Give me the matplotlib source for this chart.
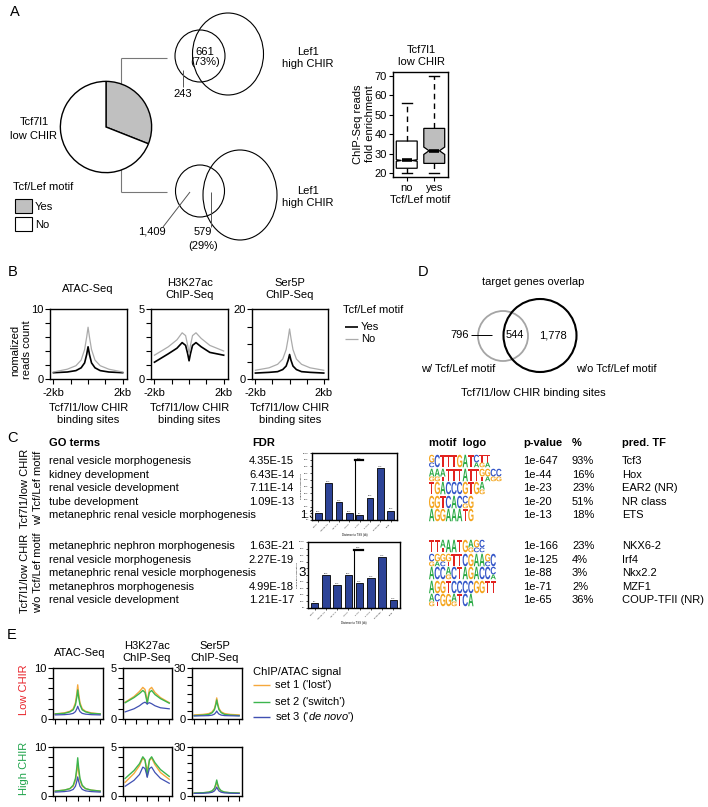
import numpy as np
import matplotlib
matplotlib.use('Agg')
import matplotlib.pyplot as plt
from matplotlib.patches import Ellipse, Circle, Rectangle, PathPatch
from matplotlib.textpath import TextPath
from matplotlib.font_manager import FontProperties
from matplotlib.transforms import Affine2D

plt.rcParams['font.family'] = ['Liberation Sans', 'DejaVu Sans']
plt.rcParams['font.size'] = 8
plt.rcParams['mathtext.fontset'] = 'custom'
plt.rcParams['mathtext.rm'] = 'Liberation Sans'
plt.rcParams['mathtext.it'] = 'Liberation Sans:italic'

W, H = 708, 807

# ---------------- data ----------------
pie_labels = ['Yes', 'No']
pie_values = [31, 69]

venn_top_only = '243'
venn_top_overlap = '661\n(73%)'
venn_bot_only = '1,409'
venn_bot_overlap = '579'
venn_bot_pct = '(29%)'

box_groups = ['no', 'yes']
box_med = [26.5, 31.5]
box_q1 = [22.5, 25.0]
box_q3 = [36.5, 43.0]
box_whislo = [20.0, 20.0]
box_whishi = [56.0, 70.0]
box_cilo = [26.1, 29.6]
box_cihi = [26.9, 33.4]

prof_x = [-2, -1.2, -0.7, -0.4, -0.2, -0.08, 0, 0.08, 0.2, 0.4, 0.7, 1.2, 2]

b_atac_yes = [0.9, 1.0, 1.2, 1.6, 2.3, 3.5, 4.6, 3.5, 2.3, 1.6, 1.2, 1.0, 0.9]
b_atac_no = [1.0, 1.4, 1.9, 2.7, 4.2, 6.0, 7.4, 6.0, 4.2, 2.7, 1.9, 1.4, 1.0]
b_h3_yes = [1.2, 1.8, 2.2, 2.6, 2.4, 1.8, 1.3, 1.8, 2.4, 2.6, 2.3, 1.9, 1.7]
b_h3_no = [1.7, 2.3, 2.8, 3.3, 3.1, 2.4, 1.8, 2.4, 3.1, 3.3, 2.9, 2.4, 2.0]
b_ser_yes = [1.7, 1.9, 2.1, 2.7, 3.7, 5.4, 7.0, 5.4, 3.7, 2.7, 2.1, 1.9, 1.7]
b_ser_no = [2.5, 3.2, 4.2, 5.7, 8.4, 11.7, 14.3, 11.7, 8.4, 5.7, 4.2, 3.2, 2.5]

e_low_atac = [[1.0, 1.2, 1.5, 2.0, 3.2, 5.0, 6.7, 5.0, 3.2, 2.0, 1.5, 1.2, 1.0],
              [1.0, 1.1, 1.4, 1.8, 2.8, 4.3, 5.7, 4.3, 2.8, 1.8, 1.4, 1.1, 1.0],
              [0.8, 0.85, 0.95, 1.1, 1.45, 2.0, 2.5, 2.0, 1.45, 1.1, 0.95, 0.85, 0.8]]
e_low_h3 = [[1.65, 2.2, 2.7, 3.1, 2.9, 2.2, 1.55, 2.2, 2.9, 3.1, 2.6, 2.1, 1.6],
            [1.6, 2.1, 2.5, 2.8, 2.6, 2.0, 1.5, 2.0, 2.6, 2.8, 2.4, 2.0, 1.55],
            [0.7, 1.0, 1.3, 1.55, 1.65, 1.55, 1.45, 1.55, 1.6, 1.5, 1.3, 1.1, 1.0]]
e_low_ser = [[2.4, 2.7, 3.2, 4.2, 6.2, 9.4, 12.4, 9.4, 6.2, 4.2, 3.2, 2.7, 2.4],
             [2.0, 2.3, 2.7, 3.7, 5.5, 8.4, 11.2, 8.4, 5.5, 3.7, 2.7, 2.3, 2.0],
             [1.8, 1.9, 2.0, 2.3, 2.9, 3.8, 4.7, 3.8, 2.9, 2.3, 2.0, 1.9, 1.8]]
e_high_atac = [[1.0, 1.2, 1.5, 2.0, 3.2, 5.0, 6.7, 5.0, 3.2, 2.0, 1.5, 1.2, 1.0],
               [1.0, 1.2, 1.5, 2.2, 3.6, 5.8, 7.8, 5.8, 3.6, 2.2, 1.5, 1.2, 1.0],
               [0.8, 0.9, 1.05, 1.35, 2.0, 3.0, 3.9, 3.0, 2.0, 1.35, 1.05, 0.9, 0.8]]
e_high_h3 = [[1.4, 2.3, 3.1, 3.9, 3.6, 3.0, 2.6, 3.0, 3.6, 3.9, 3.2, 2.4, 1.7],
             [1.8, 2.6, 3.3, 4.0, 3.7, 2.7, 2.0, 2.7, 3.7, 4.0, 3.4, 2.7, 2.0],
             [1.0, 1.6, 2.2, 2.95, 2.8, 2.3, 1.9, 2.3, 2.8, 2.95, 2.4, 1.8, 1.3]]
e_high_ser = [[1.8, 2.0, 2.3, 3.0, 4.4, 6.6, 8.6, 6.6, 4.4, 3.0, 2.3, 2.0, 1.8],
              [1.8, 2.0, 2.4, 3.2, 4.8, 7.4, 9.8, 7.4, 4.8, 3.2, 2.4, 2.0, 1.8],
              [1.6, 1.7, 1.9, 2.3, 3.1, 4.3, 5.5, 4.3, 3.1, 2.3, 1.9, 1.7, 1.6]]
e_set_labels = ["set 1 ('lost')", "set 2 ('switch')", r"set 3 ('$\mathit{de\ novo}$')"]

go_terms_1 = ['renal vesicle morphogenesis', 'kidney development', 'renal vesicle development',
              'tube development', 'metanephric renal vesicle morphogenesis']
go_fdr_1 = ['4.35E-15', '6.43E-14', '7.11E-14', '1.09E-13', '1.38E-13']
go_terms_2 = ['metanephric nephron morphogenesis', 'renal vesicle morphogenesis',
              'metanephric renal vesicle morphogenesis', 'metanephros morphogenesis',
              'renal vesicle development']
go_fdr_2 = ['1.63E-21', '2.27E-19', '3.84E-18', '4.99E-18', '1.21E-17']

tss_bins = ['<-500', '-500 to -50', '-50 to -5', '-5 to 0', '0 to 5', '5 to 50', '50 to 500', '>500']
tss_vals_1 = [10, 55, 26.5, 10, 7.5, 33.5, 77.5, 14]
tss_vals_2 = [7.5, 50, 35, 50, 37.5, 45, 77.5, 11.5]

motif_logos_1 = ['GC C T T T G A T CA TG TA', 'AG AG AT T T T A T T GT GA CG CG',
                 'T G A C C C G T G AG', 'G G T C A C CG G', 'A G G A A A T G']
motif_logos_2 = ['T T AT A A T G AG GC CC', 'CG GA GC GT T T C G A A GC C',
                 'A C C AG C T A G A C C CA', 'A G G T C C C C G G T T', 'AG CT G G AG T C A']
motif_p_1 = ['1e-647', '1e-44', '1e-23', '1e-20', '1e-13']
motif_pct_1 = ['93%', '16%', '23%', '51%', '18%']
motif_tf_1 = ['Tcf3', 'Hox', 'EAR2 (NR)', 'NR class', 'ETS']
motif_p_2 = ['1e-166', '1e-125', '1e-88', '1e-71', '1e-65']
motif_pct_2 = ['23%', '4%', '3%', '2%', '36%']
motif_tf_2 = ['NKX6-2', 'Irf4', 'Nkx2.2', 'MZF1', 'COUP-TFII (NR)']

d_only_w = '796'
d_overlap = '544'
d_only_wo = '1,778'

# ---------------- styles ----------------
ORANGE, GREEN, BLUE = '#F5A83C', '#3CB54E', '#4050B2'
GRAY_LINE = '#ABABAB'
LOGO_COL = {'A': '#2BAA45', 'C': '#3557C8', 'G': '#F4A51E', 'T': '#E2231F'}

fig = plt.figure(figsize=(W / 100, H / 100), dpi=100)
bg = fig.add_axes([0, 0, 1, 1])
bg.set_xlim(0, W)
bg.set_ylim(H, 0)
bg.axis('off')


def px(l, t, r, b):
    return [l / W, 1 - b / H, (r - l) / W, (b - t) / H]


def T(x, y, s, ha='left', va='center', **kw):
    bg.text(x, y, s, ha=ha, va=va, **kw)


def L(xs, ys, color='k', lw=0.8):
    bg.plot(xs, ys, color=color, lw=lw, solid_capstyle='butt')


# panel letters
for lab, (x, y) in {'A': (10, 12), 'B': (8, 272), 'C': (7, 438), 'D': (418, 272), 'E': (7, 635)}.items():
    T(x, y, lab, fontsize=10.5)

# ---------------- Panel A ----------------
axp = fig.add_axes(px(59, 80, 153, 174))
axp.pie(pie_values, colors=['#C0C0C0', 'white'], startangle=90, counterclock=False,
        wedgeprops=dict(edgecolor='k', linewidth=1.0))
axp.set_xlim(-1.03, 1.03)
axp.set_ylim(-1.03, 1.03)
axp.set_aspect('equal')
T(128, 114, '31%', ha='center')
T(34, 129, 'Tcf7l1\nlow CHIR', ha='center', linespacing=1.4)

T(13, 187, 'Tcf/Lef motif')
bg.add_patch(Rectangle((15, 199), 17, 14, fc='#C0C0C0', ec='k', lw=0.8))
T(35, 207, pie_labels[0])
bg.add_patch(Rectangle((15, 217), 17, 14, fc='white', ec='k', lw=0.8))
T(35, 225, pie_labels[1])

L([121, 121], [100, 58], '#777777')
L([121, 167], [58, 58], '#777777')
L([121, 121], [150, 192], '#777777')
L([121, 167], [192, 192], '#777777')

bg.add_patch(Ellipse((200, 56), 50, 52, fill=False, ec='k', lw=0.8))
bg.add_patch(Ellipse((228, 54), 71, 82, fill=False, ec='k', lw=0.8))
T(205, 57, venn_top_overlap, ha='center', linespacing=1.0)
L([183, 183], [70, 87], '#555555', 0.7)
T(183, 94, venn_top_only, ha='center')
T(308, 58, 'Lef1\nhigh CHIR', ha='center')

bg.add_patch(Ellipse((200, 191), 49, 52, fill=False, ec='k', lw=0.8))
bg.add_patch(Ellipse((240, 195), 74, 90, fill=False, ec='k', lw=0.8))
T(308, 197, 'Lef1\nhigh CHIR', ha='center')
L([163, 190], [227, 192], '#555555', 0.7)
T(152, 232, venn_bot_only, ha='center')
L([211, 211], [192, 227], '#555555', 0.7)
T(203, 232, venn_bot_overlap, ha='center')
T(203, 246, venn_bot_pct, ha='center')

# boxplot
axb = fig.add_axes(px(393, 72, 448, 177))
stats = []
for i, g in enumerate(box_groups):
    stats.append(dict(label=g, med=box_med[i], q1=box_q1[i], q3=box_q3[i],
                      whislo=box_whislo[i], whishi=box_whishi[i],
                      cilo=box_cilo[i], cihi=box_cihi[i], fliers=[]))
bp = axb.bxp(stats, positions=[1, 2], widths=0.76, shownotches=True, patch_artist=True,
             showfliers=False, capwidths=0.36,
             boxprops=dict(linewidth=0.9, edgecolor='k'),
             whiskerprops=dict(linestyle=(0, (4, 3)), linewidth=1.0, color='k'),
             capprops=dict(linewidth=1.0, color='k'),
             medianprops=dict(linewidth=2.6, color='k'))
for patch, fc in zip(bp['boxes'], ['white', '#BEBEBE']):
    patch.set_facecolor(fc)
axb.set_xlim(0.5, 2.5)
axb.set_ylim(18, 72)
axb.set_yticks([20, 30, 40, 50, 60, 70])
axb.set_xticks([1, 2])
axb.set_xticklabels(box_groups, fontsize=8)
axb.tick_params(direction='out', length=3, width=0.8, labelsize=8, pad=1.5)
for s in axb.spines.values():
    s.set_linewidth(1.0)
axb.set_xlabel('Tcf/Lef motif', fontsize=8, labelpad=1)
T(421, 56, 'Tcf7l1\nlow CHIR', ha='center', linespacing=1.35)
T(364, 124, 'ChIP-Seq reads\nfold enrichment', ha='center', rotation=90, fontsize=8)


# ---------------- profile helper ----------------
def prof(box, ymax, nint, series, cols, lws, xlab):
    ax = fig.add_axes(px(*box))
    for ys, c, lw in zip(series, cols, lws):
        ax.plot(prof_x, ys, color=c, lw=lw)
    ax.set_xlim(-2.2, 2.25)
    ax.set_ylim(0, ymax)
    ax.set_yticks([0, ymax])
    ax.set_yticklabels(['0', str(ymax)])
    ax.set_yticks(list(np.linspace(0, ymax, nint + 1)[1:-1]), minor=True)
    ax.set_xticks([-2, 2])
    ax.set_xticklabels(['-2kb', '2kb'] if xlab else [])
    ax.set_xticks([-1, 0, 1], minor=True)
    ax.tick_params(which='both', direction='out', length=3.5, width=0.8, labelsize=8, pad=1.2)
    ax.tick_params(axis='x', pad=3)
    for s in ax.spines.values():
        s.set_linewidth(1.0)
    return ax


# ---------------- Panel B ----------------
bcols = ['k', GRAY_LINE]
blws = [1.2, 0.9]
prof((50, 309, 127, 379), 10, 5, [b_atac_yes, b_atac_no], bcols, blws, True)
prof((151, 309, 228, 379), 5, 5, [b_h3_yes, b_h3_no], bcols, blws, True)
prof((252, 309, 328, 379), 20, 4, [b_ser_yes, b_ser_no], bcols, blws, True)
T(88, 289, 'ATAC-Seq', ha='center')
T(190, 289, 'H3K27ac\nChIP-Seq', ha='center')
T(290, 289, 'Ser5P\nChIP-Seq', ha='center')
for xc in [88.5, 189.5, 290]:
    T(xc, 414, 'Tcf7l1/low CHIR\nbinding sites', ha='center', linespacing=1.25)
T(21, 350, 'nomalized\nreads count', ha='center', rotation=90)
T(343, 310, 'Tcf/Lef motif')
L([345, 358], [327, 327], 'k', 1.2)
T(361, 327, 'Yes')
L([345, 358], [339, 339], GRAY_LINE, 0.9)
T(361, 339, 'No')

# ---------------- Panel D ----------------
T(533, 282, 'target genes overlap', ha='center')
bg.add_patch(Circle((503, 336), 25, fill=False, ec='#A5A5A5', lw=1.3))
bg.add_patch(Circle((540, 335.5), 36.5, fill=False, ec='k', lw=1.5))
T(515, 335, d_overlap, ha='center')
T(553, 335, d_only_wo, ha='center')
T(460, 335, d_only_w, ha='center')
L([471, 492], [335, 335], 'k', 0.7)
T(458, 369, 'w/ Tcf/Lef motif', ha='center')
T(616, 369, 'w/o Tcf/Lef motif', ha='center')
T(533, 393, 'Tcf7l1/low CHIR binding sites', ha='center')

# ---------------- Panel C ----------------
T(49, 443, 'GO terms', fontweight='bold')
T(264, 443, 'FDR', ha='center', fontweight='bold')
T(429, 443, 'motif  logo', fontweight='bold')
T(523, 443, 'p-value', fontweight='bold')
T(572, 443, '%', fontweight='bold')
T(622, 443, 'pred. TF', fontweight='bold')

rows_1 = [461, 475, 488, 502, 515]
rows_2 = [546, 560, 573, 587, 600]

for i in range(5):
    T(49, rows_1[i], go_terms_1[i])
    T(49, rows_2[i], go_terms_2[i])
    if i == 4:
        T(300, rows_1[i], go_fdr_1[i])
    else:
        T(294, rows_1[i], go_fdr_1[i], ha='right')
    if i == 2:
        T(298, rows_2[i], go_fdr_2[i], fontsize=9.5)
    else:
        T(294, rows_2[i], go_fdr_2[i], ha='right')
    T(523, rows_1[i], motif_p_1[i])
    T(572, rows_1[i], motif_pct_1[i])
    T(622, rows_1[i], motif_tf_1[i])
    T(523, rows_2[i], motif_p_2[i])
    T(572, rows_2[i], motif_pct_2[i])
    T(622, rows_2[i], motif_tf_2[i])

T(25, 488, 'Tcf7l1/low CHIR', ha='center', rotation=90, fontsize=8)
T(38, 488, 'w/ Tcf/Lef motif', ha='center', rotation=90, fontsize=8)
T(25, 573, 'Tcf7l1/low CHIR', ha='center', rotation=90, fontsize=8)
T(38, 573, 'w/o Tcf/Lef motif', ha='center', rotation=90, fontsize=8)

fp = FontProperties(family='Liberation Sans', weight='bold')


def draw_logo(x0, yc, cols, colw=5.6, h=12.5):
    x = x0
    for col in cols:
        fr = [1.0] if len(col) == 1 else [0.62, 0.38]
        ytop = yc - h / 2
        for letter, f in zip(col, fr):
            hh = h * f
            tp = TextPath((0, 0), letter, size=10, prop=fp)
            bb = tp.get_extents()
            tr = (Affine2D().translate(-bb.x0, -bb.y0)
                  .scale(colw * 0.95 / bb.width, -hh / bb.height)
                  .translate(x, ytop + hh))
            bg.add_patch(PathPatch(tr.transform_path(tp), fc=LOGO_COL[letter], lw=0))
            ytop += hh
        x += colw


for i in range(5):
    draw_logo(429, rows_1[i], motif_logos_1[i].split())
    draw_logo(429, rows_2[i], motif_logos_2[i].split())


def tss_inset(box, vals, top):
    ax = fig.add_axes(px(*box))
    ax.set_facecolor('white')
    xs = list(range(len(tss_bins)))
    ax.bar(xs, vals, width=0.66, color='#2D4397', edgecolor='k', linewidth=0.6)
    for xx, v in zip(xs, vals):
        ax.text(xx, v + 2, f'{v:.0f}%', ha='center', va='bottom', fontsize=1.6)
    ax.plot([3.5, 3.5], [0, top], color='k', lw=0.8)
    ax.plot([3.5, 4.3], [top, top], color='k', lw=1.6)
    ax.text(3.9, top + 2, 'TSS', ha='center', va='bottom', fontsize=1.6)
    ax.set_xlim(-0.6, 7.6)
    ax.set_ylim(0, 100)
    ax.set_xticks(xs)
    ax.set_xticklabels(tss_bins, rotation=45, ha='right', fontsize=1.6)
    ax.set_yticks(list(range(0, 101, 10)))
    ax.set_yticklabels([f'{v}%' for v in range(0, 101, 10)], fontsize=1.6)
    ax.tick_params(length=1.5, width=0.5, pad=0.8)
    ax.set_xlabel('Distance to TSS (kb)', fontsize=2, labelpad=1)
    ax.set_ylabel('Region-gene associations', fontsize=1.6, labelpad=1)
    for s in ax.spines.values():
        s.set_linewidth(1.0)
    return ax


tss_inset((312, 453, 397, 520), tss_vals_1, 89)
tss_inset((308, 542, 400, 608), tss_vals_2, 88.5)

# ---------------- Panel E ----------------
ecols = [ORANGE, GREEN, BLUE]
elws = [1.0, 1.0, 0.9]
for (t, b), data_row in [((668, 719), (e_low_atac, e_low_h3, e_low_ser)),
                         ((747, 796), (e_high_atac, e_high_h3, e_high_ser))]:
    prof((53, t, 103, b), 10, 5, data_row[0], ecols, elws, False)
    prof((123, t, 172, b), 5, 5, data_row[1], ecols, elws, False)
    prof((192, t, 242, b), 30, 6, data_row[2], ecols, elws, False)
T(80, 653, 'ATAC-Seq', ha='center')
T(147, 652, 'H3K27ac\nChIP-Seq', ha='center')
T(215, 652, 'Ser5P\nChIP-Seq', ha='center')
T(24, 690, 'Low CHIR', ha='center', rotation=90, color='#E8232A', fontsize=8)
T(24, 768, 'High CHIR', ha='center', rotation=90, color='#1EA34A', fontsize=8)
T(253, 672, 'ChIP/ATAC signal')
for yy, c, lab in zip([685, 702, 717], ecols, e_set_labels):
    L([253, 270], [yy, yy], c, 1.0)
    T(275, yy, lab)

fig.savefig('out.png', dpi=100)
